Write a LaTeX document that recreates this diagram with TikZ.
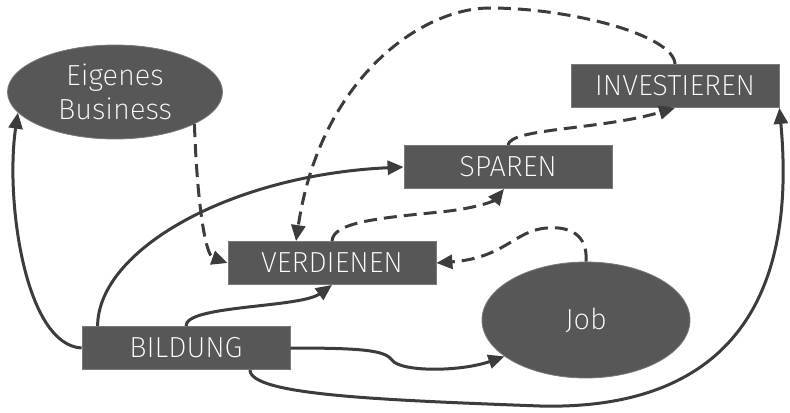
\documentclass[tikz,border=0pt]{standalone}
\usepackage{fontspec}
\setmainfont{Fira Sans}[UprightFont=* ExtraLight]
\usepackage{tikz}
\usetikzlibrary{arrows.meta,shapes.geometric}
\definecolor{BoxGray}{HTML}{575757}
\definecolor{BoxEdge}{HTML}{7A7A7A}
\definecolor{LineGray}{HTML}{3C3C3C}

\begin{document}
\begin{tikzpicture}[
  x=0.5pt, y=-0.5pt,
  every node/.style={font=\fontsize{14.5}{17}\selectfont, text=white},
  box/.style={rectangle,fill=BoxGray,draw=BoxEdge,thin,minimum width=104pt,minimum height=21.5pt,inner sep=0pt},
  blob/.style={ellipse,fill=BoxGray,draw=BoxEdge,thin,inner sep=0pt,align=center},
  link/.style={-{Triangle[length=8pt,width=7pt]},line width=1.5pt,LineGray},
  dlink/.style={link,dash pattern=on 6.5pt off 3.5pt}
]
  \useasboundingbox (0,0) rectangle (790,412);

  \node[blob, minimum width=107.5pt, minimum height=47pt] (eigenes) at (115,92) {Eigenes\\Business};
  \node[blob, minimum width=104pt, minimum height=58pt] (job) at (586,320) {Job};
  \node[box] (bildung) at (186,348) {BILDUNG};
  \node[box] (verdienen) at (332,263) {VERDIENEN};
  \node[box] (sparen) at (508,167) {SPAREN};
  \node[box] (investieren) at (675,86) {INVESTIEREN};

  % solid links out of BILDUNG
  \draw[link] (bildung.west) .. controls (25,345) and (5,200) .. (eigenes.192);
  \draw[link] ([xshift=8pt]bildung.north west) .. controls (98,250) and (230,175) .. (sparen.west);
  \draw[link] (bildung.north) .. controls (185,305) and (300,308) .. (verdienen.south);
  \draw[link] (bildung.east) .. controls (360,348) and (385,350) .. (392,360)
    .. controls (400,372) and (460,372) .. (job.204);
  \draw[link] ([xshift=32pt]bildung.south) .. controls (250,395) and (380,400) .. (540,406)
    .. controls (700,410) and (800,330) .. (investieren.south east);

  % dashed links
  \draw[dlink] (eigenes.-22) .. controls (197,200) and (205,255) .. (verdienen.west);
  \draw[dlink] (investieren.north) .. controls (674,35) and (570,8) .. (490,8)
    .. controls (420,8) and (320,80) .. ([xshift=-18pt]verdienen.north);
  \draw[dlink] (verdienen.north) .. controls (333,222) and (380,218) .. (440,212)
    .. controls (480,208) and (495,200) .. ([xshift=-2pt]sparen.south);
  \draw[dlink] (sparen.north) .. controls (510,128) and (600,130) .. (investieren.south);
  \draw[dlink] (job.north) .. controls (588,235) and (570,226) .. (547,228)
    .. controls (515,230) and (505,258) .. (verdienen.east);
\end{tikzpicture}
\end{document}
